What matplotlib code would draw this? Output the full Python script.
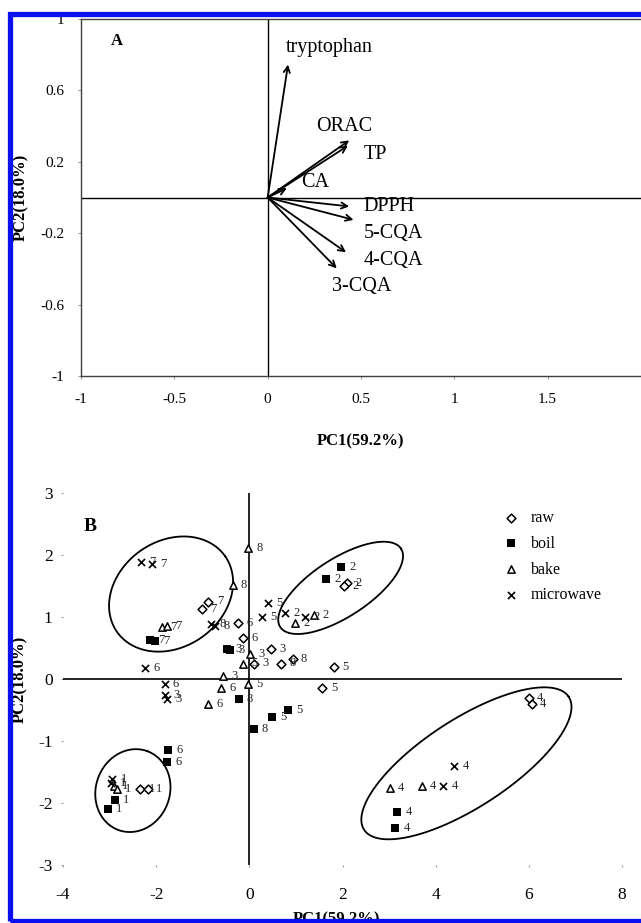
import numpy as np
import matplotlib
matplotlib.use('Agg')
import matplotlib.pyplot as plt
from matplotlib.patches import Rectangle

plt.rcParams['font.family'] = ['Liberation Serif', 'DejaVu Serif']
plt.rcParams['axes.unicode_minus'] = False

# ---- panel A: loadings
var_names = ['tryptophan', 'ORAC', 'TP', 'CA', 'DPPH', '5-CQA', '4-CQA', '3-CQA']
var_pc1 = [0.109, 0.437, 0.43, 0.103, 0.437, 0.46, 0.42, 0.37]
var_pc2 = [0.745, 0.32, 0.29, 0.052, -0.05, -0.125, -0.307, -0.397]
# where the names sit
name_x = [0.098, 0.258, 0.517, 0.18, 0.513, 0.513, 0.513, 0.345]
name_y = [0.84, 0.40, 0.24, 0.086, -0.05, -0.20, -0.354, -0.50]

# ---- panel B: scores
raw_x = [-1.01, -0.88, -0.24, -0.13, 0.46, 0.11, 0.69, 0.93, 1.82, 1.57, 2.10, 2.04, 6.00, 6.06, -2.34, -2.18]
raw_y = [1.13, 1.25, 0.91, 0.66, 0.48, 0.25, 0.25, 0.33, 0.19, -0.14, 1.55, 1.50, -0.30, -0.40, -1.77, -1.77]
raw_lab = ['7', '7', '6', '6', '3', '3', '8', '8', '5', '5', '2', '2', '4', '4', '1', '1']

boil_x = [1.96, 1.64, -2.13, -2.03, -0.48, -0.41, -0.23, 0.09, 0.82, 0.49, -1.74, -1.77, -2.89, -3.04, 3.18, 3.13]
boil_y = [1.80, 1.61, 0.63, 0.61, 0.48, 0.46, -0.32, -0.80, -0.505, -0.61, -1.15, -1.34, -1.95, -2.09, -2.15, -2.40]
boil_lab = ['2', '2', '7', '7', '3', '3', '8', '8', '5', '5', '6', '6', '1', '1', '4', '4']

bake_x = [-0.02, -0.36, -1.87, -1.77, 0.98, 1.39, -0.56, 0.01, -0.61, -0.89, -0.02, -0.14, -2.91, -2.85, 3.01, 3.70]
bake_y = [2.11, 1.52, 0.84, 0.85, 0.91, 1.04, 0.05, 0.40, -0.14, -0.40, -0.08, 0.25, -1.72, -1.77, -1.76, -1.72]
bake_lab = ['8', '8', '7', '7', '2', '2', '3', '3', '6', '6', '5', '5', '1', '1', '4', '4']

micro_x = [-2.33, -2.10, -0.82, -0.73, 0.39, 0.28, 0.76, 1.20, -2.23, -1.82, -1.80, -1.77, -2.94, -2.96, 4.40, 4.16]
micro_y = [1.88, 1.86, 0.89, 0.85, 1.22, 1.00, 1.07, 1.00, 0.18, -0.08, -0.25, -0.33, -1.61, -1.68, -1.40, -1.72]
micro_lab = ['7', '7', '8', '8', '5', '5', '2', '2', '6', '6', '3', '3', '1', '1', '4', '4']

# group ellipses: centre (data), half axes (px), angle (deg, screen)
ellipses = [(-1.68, 1.37, 66, 53, 35),
            (1.96, 1.47, 72, 29, 33),
            (-2.50, -1.80, 42, 37, 70),
            (4.66, -1.36, 122, 44, 33)]

W, H = 641, 923
fig = plt.figure(figsize=(W / 100, H / 100), dpi=100)

# ================= A
axA = fig.add_axes([81 / W, 1 - 376 / H, (641 - 81) / W, (376 - 19) / H])
axA.set_xlim(-1, 2)
axA.set_ylim(-1, 1)
axA.axhline(0, color='k', lw=1)
axA.axvline(0, color='k', lw=1)
for s in ['left', 'top', 'bottom']:
    axA.spines[s].set_linewidth(1)
    axA.spines[s].set_color('0.25')
axA.spines['right'].set_visible(False)
axA.set_xticks([-1, -0.5, 0, 0.5, 1, 1.5])
axA.set_xticklabels(['-1', '-0.5', '0', '0.5', '1', '1.5'])
axA.set_yticks([1, 0.6, 0.2, -0.2, -0.6, -1])
axA.set_yticklabels(['1', '0.6', '0.2', '-0.2', '-0.6', '-1'])
axA.tick_params(length=2, color='0.6', width=0.8, labelsize=11, pad=10)

for i in range(len(var_names)):
    axA.annotate('', xy=(var_pc1[i], var_pc2[i]), xytext=(0, 0),
                 arrowprops=dict(arrowstyle='->', lw=1.3, color='k',
                                 shrinkA=0, shrinkB=0, mutation_scale=11))
    axA.text(name_x[i], name_y[i], var_names[i], fontsize=14.5, ha='left', va='center')

axA.text(-0.81, 0.876, 'A', fontsize=12, fontweight='bold', ha='center', va='center')
axA.set_xlabel('PC1(59.2%)', fontsize=12, fontweight='bold')
axA.xaxis.set_label_coords(0.5, -0.162)
axA.set_ylabel('PC2(18.0%)', fontsize=12, fontweight='bold')
axA.yaxis.set_label_coords(-0.093, 0.5)

# ================= B
axB = fig.add_axes([63 / W, 1 - 865 / H, (622 - 63) / W, (865 - 493) / H])
axB.set_xlim(-4, 8)
axB.set_ylim(-3, 3)
for s in axB.spines.values():
    s.set_visible(False)
axB.axhline(0, color='k', lw=1.2)
axB.axvline(0, color='k', lw=1.2)
axB.set_xticks([-4, -2, 0, 2, 4, 6, 8])
axB.set_yticks([3, 2, 1, 0, -1, -2, -3])
axB.tick_params(length=1.5, color='0.6', width=0.8, labelsize=12.5)
axB.tick_params(axis='x', pad=14)
axB.tick_params(axis='y', pad=6)

groups = [
    ('raw', raw_x, raw_y, raw_lab, dict(marker='D', s=20, facecolors='white', edgecolors='k', linewidths=1.1)),
    ('boil', boil_x, boil_y, boil_lab, dict(marker='s', s=28, c='k', linewidths=0)),
    ('bake', bake_x, bake_y, bake_lab, dict(marker='^', s=28, facecolors='white', edgecolors='k', linewidths=1.1)),
    ('microwave', micro_x, micro_y, micro_lab, dict(marker='x', s=26, c='k', linewidths=1.2)),
]
for name, xs, ys, labs, style in groups:
    axB.scatter(xs, ys, label=name, zorder=3, **style)
    for x, y, t in zip(xs, ys, labs):
        axB.annotate(t, (x, y), xytext=(6, 0), textcoords='offset points',
                     fontsize=9, ha='left', va='center', color='0.15')

# ellipses, drawn in screen proportions
px_x = (622 - 63) / 12.0
px_y = (865 - 493) / 6.0
t = np.linspace(0, 2 * np.pi, 300)
for cx, cy, a, b, ang in ellipses:
    th = np.deg2rad(ang)
    u = a * np.cos(t)
    v = b * np.sin(t)
    ex = cx + (u * np.cos(th) - v * np.sin(th)) / px_x
    ey = cy + (u * np.sin(th) + v * np.cos(th)) / px_y
    axB.plot(ex, ey, color='k', lw=1.3)

axB.text(-3.42, 2.46, 'B', fontsize=14, fontweight='bold', ha='center', va='center')
axB.legend(loc='upper left', bbox_to_anchor=(0.785, 0.955), frameon=False,
           fontsize=11.5, handlelength=1.1, handletextpad=0.7, labelspacing=0.62,
           borderpad=0, borderaxespad=0)
axB.set_xlabel('PC1(59.2%)', fontsize=12, fontweight='bold')
axB.xaxis.set_label_coords(0.49, -0.125)
axB.set_ylabel('PC2(18.0%)', fontsize=12, fontweight='bold')
axB.yaxis.set_label_coords(-0.063, 0.5)

# blue frame round the whole picture
fig.add_artist(Rectangle((10 / W, 2 / H), 1.2, 1 - 16 / H, transform=fig.transFigure,
                         fill=False, ec='#0a10f0', lw=3.8, zorder=10))

fig.savefig('out.png', dpi=100)
